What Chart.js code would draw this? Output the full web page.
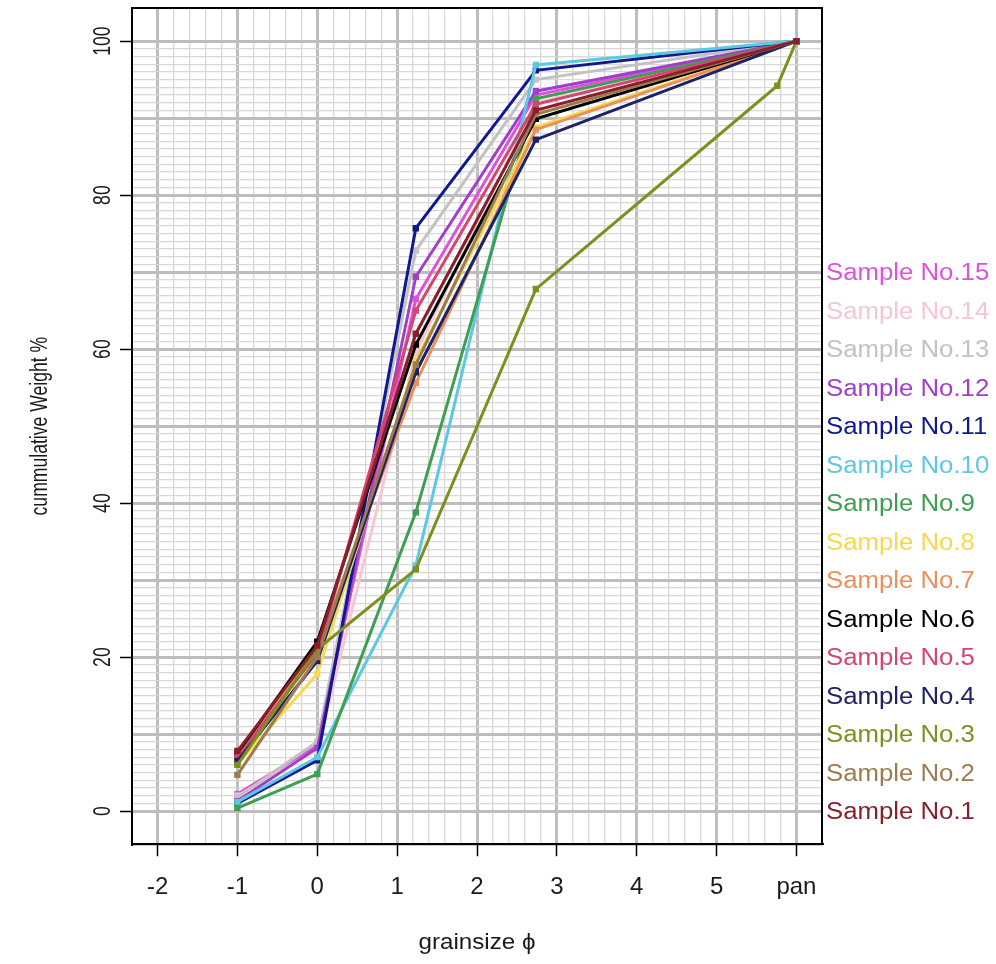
<!DOCTYPE html>
<html>
<head>
<meta charset="utf-8">
<script src="https://cdn.jsdelivr.net/npm/chart.js@4.4.1/dist/chart.umd.min.js"></script>
<style>
  html, body { margin: 0; padding: 0; background: #fff; }
  #wrap { width: 996px; height: 964px; }
</style>
</head>
<body>
<div id="wrap"><canvas id="myChart1" width="996" height="964"></canvas></div>
<script>
// sieve positions (phi); 6 = pan
const xPhi = [-1, 0, 1.234, 2.737, 5.76, 6];
const xTickLabels = { '-2': '-2', '-1': '-1', '0': '0', '1': '1', '2': '2', '3': '3', '4': '4', '5': '5', '6': 'pan' };
const yTickLabels = [0, 20, 40, 60, 80, 100];

const sampleNames = ['Sample No.1', 'Sample No.2', 'Sample No.3', 'Sample No.4', 'Sample No.5',
  'Sample No.6', 'Sample No.7', 'Sample No.8', 'Sample No.9', 'Sample No.10',
  'Sample No.11', 'Sample No.12', 'Sample No.13', 'Sample No.14', 'Sample No.15'];

const s1  = [7.8, 21.5, 62.0, 91.0, null, 100];
const s2  = [4.7, 20.0, 58.0, 90.5, null, 100];
const s3  = [6.0, 21.0, 31.4, 67.8, 94.2, 100];
const s4  = [6.5, 19.5, 57.0, 87.2, null, 100];
const s5  = [7.0, 20.5, 65.0, 91.8, null, 100];
const s6  = [7.5, 22.0, 60.6, 89.9, null, 100];
const s7  = [7.4, 21.0, 55.6, 88.5, null, 100];
const s8  = [6.1, 17.8, 58.5, 88.8, null, 100];
const s9  = [0.4, 4.8, 38.8, 92.5, null, 100];
const s10 = [1.2, 7.0, 31.9, 96.9, null, 100];
const s11 = [1.0, 6.6, 75.7, 96.2, null, 100];
const s12 = [1.3, 8.2, 69.4, 93.5, null, 100];
const s13 = [1.8, 9.0, 72.8, 95.0, null, 100];
const s14 = [2.0, 8.0, 59.5, 92.0, null, 100];
const s15 = [2.2, 8.5, 66.5, 93.0, null, 100];
const allSamples = [s1, s2, s3, s4, s5, s6, s7, s8, s9, s10, s11, s12, s13, s14, s15];

const colors = ['#8a1f2b', '#9c7b4e', '#7f8f1e', '#1d2266', '#d4466f', '#000000', '#e8915c', '#f5d94f',
  '#3e9f52', '#5ec8e2', '#10198f', '#a23fc8', '#c2c2c2', '#f5c6d4', '#dd52dd'];

const FONT = '"Liberation Sans", Arial, sans-serif';

function isInt(v) { return Math.abs(v - Math.round(v)) < 1e-6; }

const datasets = allSamples.map(function (vals, i) {
  const pts = [];
  vals.forEach(function (v, j) { if (v !== null) pts.push({ x: xPhi[j], y: v }); });
  return {
    label: sampleNames[i],
    data: pts,
    borderColor: colors[i],
    backgroundColor: colors[i],
    borderWidth: 3,
    pointStyle: 'rect',
    pointRadius: 4.5,
    pointBorderWidth: 0,
    tension: 0
  };
});

// text around the plot + frame
const decor = {
  id: 'decor',
  afterDraw(chart) {
    const ctx = chart.ctx, a = chart.chartArea;
    const ys = chart.scales.y;
    ctx.save();
    ctx.strokeStyle = '#000';
    ctx.lineWidth = 2;
    ctx.strokeRect(a.left, a.top, a.right - a.left, a.bottom - a.top);

    // y tick labels, rotated
    ctx.fillStyle = '#1a1a1a';
    ctx.font = '22px ' + FONT;
    ctx.textAlign = 'center';
    ctx.textBaseline = 'middle';
    yTickLabels.forEach(function (v) {
      ctx.save();
      ctx.translate(103, ys.getPixelForValue(v));
      ctx.rotate(-Math.PI / 2);
      ctx.scale(0.8, 1.1);
      ctx.fillText(String(v), 0, 0);
      ctx.restore();
    });

    // y title
    ctx.save();
    ctx.translate(40, (a.top + a.bottom) / 2);
    ctx.rotate(-Math.PI / 2);
    ctx.scale(0.8, 1.1);
    ctx.fillText('cummulative Weight %', 0, 0);
    ctx.restore();

    // x title
    ctx.save();
    ctx.font = '22px ' + FONT;
    ctx.translate((a.left + a.right) / 2, 943);
    ctx.scale(1.1, 1);
    ctx.fillText('grainsize \u03d5', 0, 0);
    ctx.restore();

    // legend labels at y = 0, 5, 10, ...
    ctx.font = '23px ' + FONT;
    ctx.textAlign = 'left';
    sampleNames.forEach(function (name, i) {
      ctx.save();
      ctx.translate(826, ys.getPixelForValue(i * 5) + 2);
      ctx.scale(1.12, 1);
      ctx.fillStyle = colors[i];
      ctx.fillText(name, 0, 0);
      ctx.restore();
    });
    ctx.restore();
  }
};

new Chart(document.getElementById('myChart1').getContext('2d'), {
  type: 'line',
  data: { datasets: datasets },
  plugins: [decor],
  options: {
    responsive: false,
    animation: false,
    events: [],
    layout: { padding: { left: 120, top: 8, right: 174, bottom: 45 } },
    plugins: { legend: { display: false }, tooltip: { enabled: false } },
    scales: {
      x: {
        type: 'linear',
        min: -2.32,
        max: 6.32,
        afterBuildTicks: function (scale) {
          const t = [];
          for (let i = 0; i <= 40; i++) t.push({ value: Math.round((-2 + i * 0.2) * 10) / 10 });
          scale.ticks = t;
        },
        ticks: {
          autoSkip: false,
          maxRotation: 0,
          padding: 17,
          color: '#1a1a1a',
          font: { family: FONT, size: 24 },
          callback: function (v) { return isInt(v) ? xTickLabels[String(Math.round(v))] : ''; }
        },
        grid: {
          color: (c) => isInt(c.tick.value) ? '#bdbdbd' : '#d8d8d8',
          lineWidth: (c) => isInt(c.tick.value) ? 3 : 1.3,
          tickLength: 12,
          tickColor: (c) => isInt(c.tick.value) ? '#000' : 'rgba(0,0,0,0)',
          tickWidth: 1.5
        },
        border: { display: true, color: '#000', width: 2 }
      },
      y: {
        type: 'linear',
        min: -4.3,
        max: 104.3,
        afterBuildTicks: function (scale) {
          const t = [];
          for (let v = 0; v <= 100; v++) t.push({ value: v });
          scale.ticks = t;
        },
        ticks: { display: false },
        grid: {
          color: (c) => c.tick.value % 10 === 0 ? '#bdbdbd' : '#d8d8d8',
          lineWidth: (c) => c.tick.value % 10 === 0 ? 3 : 1.3,
          tickLength: 12,
          tickColor: (c) => c.tick.value % 20 === 0 ? '#000' : 'rgba(0,0,0,0)',
          tickWidth: 1.5
        },
        border: { display: true, color: '#000', width: 2 }
      }
    }
  }
});
</script>
</body>
</html>
